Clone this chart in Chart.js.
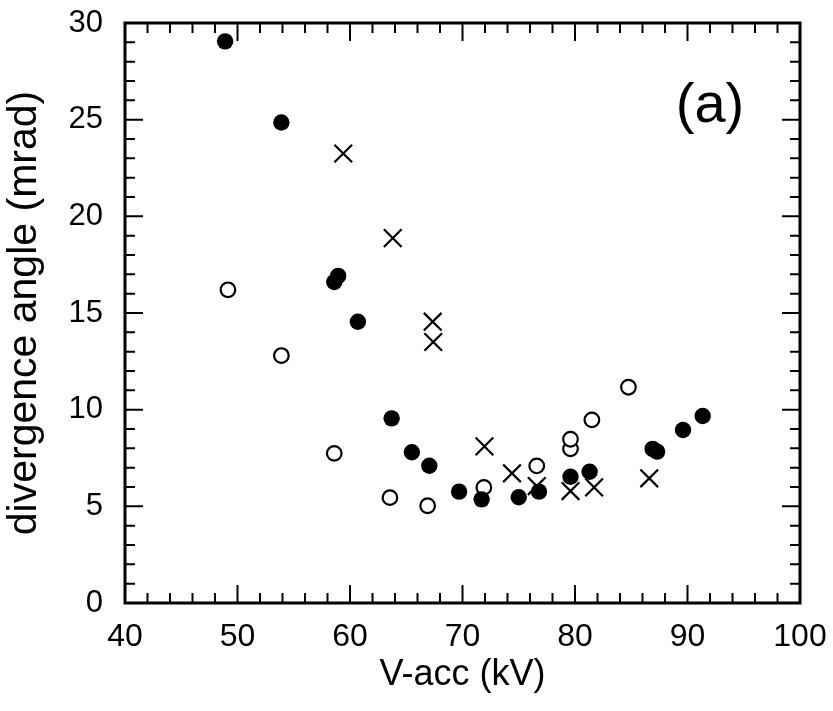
<!DOCTYPE html>
<html>
<head>
<meta charset="utf-8">
<script src="https://cdn.jsdelivr.net/npm/chart.js@4/dist/chart.umd.min.js"></script>
<style>
  html, body { margin: 0; padding: 0; background: #ffffff; }
  #wrap { width: 833px; height: 711px; }
</style>
</head>
<body>
<div id="wrap"><canvas id="c" width="833" height="711"></canvas></div>
<script>
// ---- data ----
const filledX = [48.9, 53.9, 58.6, 58.95, 60.7, 63.7, 65.5, 67.05, 69.7, 71.7, 75.0, 76.8, 79.6, 81.3, 86.9, 87.3, 89.6, 91.35];
const filledY = [29.05, 24.85, 16.6, 16.92, 14.55, 9.55, 7.8, 7.1, 5.76, 5.36, 5.47, 5.76, 6.53, 6.79, 7.97, 7.83, 8.95, 9.67];

const openX = [49.15, 53.9, 58.6, 63.55, 66.9, 71.9, 76.6, 79.6, 79.6, 81.5, 84.75];
const openY = [16.2, 12.8, 7.74, 5.45, 5.03, 5.98, 7.09, 7.97, 8.47, 9.47, 11.16];

const crossX = [59.4, 63.8, 67.35, 67.4, 71.95, 74.4, 76.6, 79.6, 81.7, 86.6];
const crossY = [23.25, 18.87, 14.55, 13.5, 8.1, 6.71, 6.05, 5.79, 5.98, 6.45];

const xTickValues = [40, 50, 60, 70, 80, 90, 100];
const yTickValues = [0, 5, 10, 15, 20, 25, 30];
const xTitle = 'V-acc (kV)';
const yTitle = 'divergence angle (mrad)';
const panelLabel = '(a)';
const panelLabelX = 92;
const panelLabelY = 25.7;

// ---- build library structures ----
function toPoints(xs, ys) { return xs.map((x, i) => ({ x: x, y: ys[i] })); }

const FONT = '"Liberation Sans", Arial, Helvetica, sans-serif';

const frameAndTicks = {
  id: 'frameAndTicks',
  afterDatasetsDraw(chart) {
    const ctx = chart.ctx;
    const a = chart.chartArea;
    const xs = chart.scales.x, ys = chart.scales.y;
    ctx.save();
    ctx.strokeStyle = '#000';
    ctx.lineCap = 'butt';
    ctx.lineWidth = 2;
    const xMin = xTickValues[0], xMax = xTickValues[xTickValues.length - 1];
    for (let v = xMin; v <= xMax; v += 2) {
      const p = xs.getPixelForValue(v);
      const major = xTickValues.includes(v);
      const L = major ? 18 : 10;
      ctx.beginPath();
      ctx.moveTo(p, a.bottom); ctx.lineTo(p, a.bottom - L);
      ctx.moveTo(p, a.top); ctx.lineTo(p, a.top + L);
      ctx.stroke();
    }
    const yMin = yTickValues[0], yMax = yTickValues[yTickValues.length - 1];
    for (let v = yMin; v <= yMax; v += 1) {
      const p = ys.getPixelForValue(v);
      const major = yTickValues.includes(v);
      const L = major ? 18 : 10;
      ctx.beginPath();
      ctx.moveTo(a.left, p); ctx.lineTo(a.left + L, p);
      ctx.moveTo(a.right, p); ctx.lineTo(a.right - L, p);
      ctx.stroke();
    }
    ctx.lineWidth = 3;
    ctx.strokeRect(a.left, a.top, a.right - a.left, a.bottom - a.top);
    ctx.fillStyle = '#000';
    ctx.font = '56px ' + FONT;
    ctx.textAlign = 'center';
    ctx.textBaseline = 'middle';
    ctx.fillText(panelLabel, xs.getPixelForValue(panelLabelX), ys.getPixelForValue(panelLabelY));
    ctx.restore();
  }
};

function zeroPad(s) { s.paddingTop = 0; s.paddingBottom = 0; s.paddingLeft = 0; s.paddingRight = 0; }

new Chart(document.getElementById('c'), {
  type: 'scatter',
  data: {
    datasets: [
      {
        label: 'filled',
        data: toPoints(filledX, filledY),
        pointStyle: 'circle',
        pointRadius: 8.2,
        backgroundColor: '#000',
        borderColor: '#000',
        borderWidth: 0
      },
      {
        label: 'open',
        data: toPoints(openX, openY),
        pointStyle: 'circle',
        pointRadius: 7.3,
        backgroundColor: '#fff',
        borderColor: '#000',
        borderWidth: 2.2
      },
      {
        label: 'cross',
        data: toPoints(crossX, crossY),
        pointStyle: 'crossRot',
        pointRadius: 12.5,
        backgroundColor: '#000',
        borderColor: '#000',
        borderWidth: 2.2
      }
    ]
  },
  options: {
    responsive: false,
    animation: false,
    events: [],
    layout: { padding: { top: 23, right: 33, left: 0, bottom: 0 } },
    plugins: { legend: { display: false }, tooltip: { enabled: false } },
    scales: {
      x: {
        type: 'linear',
        min: xTickValues[0],
        max: xTickValues[xTickValues.length - 1],
        afterBuildTicks: s => { s.ticks = xTickValues.map(v => ({ value: v })); },
        afterFit: s => { s.height = 108; zeroPad(s); },
        ticks: { color: '#000', font: { family: FONT, size: 32 }, padding: 15, maxRotation: 0, autoSkip: false },
        grid: { display: false, drawTicks: false },
        border: { display: false },
        title: { display: true, text: xTitle, color: '#000', font: { family: FONT, size: 36 }, padding: { top: 0, bottom: 14 } }
      },
      y: {
        type: 'linear',
        min: yTickValues[0],
        max: yTickValues[yTickValues.length - 1],
        afterBuildTicks: s => { s.ticks = yTickValues.map(v => ({ value: v })); },
        afterFit: s => { s.width = 125; zeroPad(s); },
        ticks: { color: '#000', font: { family: FONT, size: 31 }, padding: 22, autoSkip: false },
        grid: { display: false, drawTicks: false },
        border: { display: false },
        title: { display: true, text: yTitle, color: '#000', font: { family: FONT, size: 41 }, padding: { top: 0, bottom: 0 } }
      }
    }
  },
  plugins: [frameAndTicks]
});
</script>
</body>
</html>
